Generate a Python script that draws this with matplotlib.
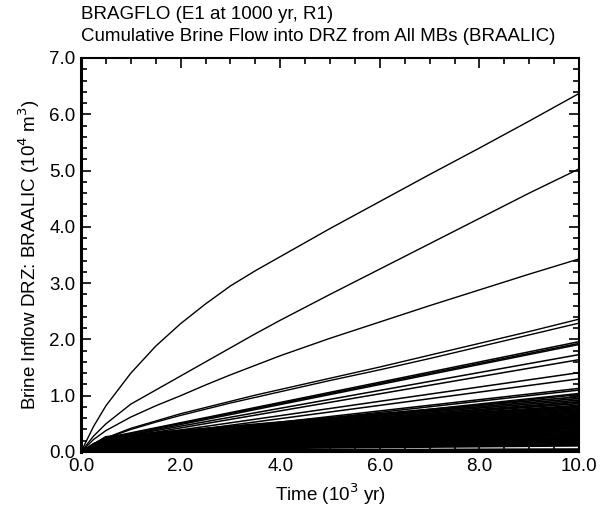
import matplotlib.pyplot as plt
from matplotlib.ticker import MultipleLocator

plt.rcParams['font.family'] = ['Liberation Sans', 'DejaVu Sans']

# time points (10^3 yr) for the upper, separated curves
t_upper = [0.0, 0.25, 0.5, 1.0, 1.5, 2.0, 2.5, 3.0, 3.5, 4.0, 5.0, 6.0, 7.0, 8.0, 9.0, 10.0]

# curves, values in 10^4 m^3
upper_curves = [
    [0.0, 0.45, 0.82, 1.40, 1.88, 2.28, 2.63, 2.95, 3.22, 3.47, 3.97, 4.45, 4.93, 5.40, 5.88, 6.37],
    [0.0, 0.28, 0.50, 0.85, 1.10, 1.35, 1.60, 1.85, 2.10, 2.34, 2.80, 3.25, 3.70, 4.15, 4.60, 5.03],
    [0.0, 0.22, 0.38, 0.62, 0.82, 1.00, 1.19, 1.37, 1.54, 1.71, 2.02, 2.31, 2.60, 2.88, 3.16, 3.43],
    [0.0, 0.15, 0.25, 0.42, 0.55, 0.68, 0.79, 0.90, 1.01, 1.11, 1.31, 1.51, 1.72, 1.93, 2.14, 2.36],
    [0.0, 0.14, 0.24, 0.40, 0.53, 0.65, 0.76, 0.87, 0.97, 1.07, 1.27, 1.46, 1.66, 1.87, 2.08, 2.29],
]

# mid group: value at t=0.5 and at t=10
t_mid = [0.0, 0.5, 10.0]
mid_half = [0.25, 0.24, 0.22, 0.22, 0.20, 0.20, 0.18, 0.18, 0.16, 0.15, 0.15, 0.14]
mid_end = [1.96, 1.93, 1.91, 1.73, 1.64, 1.41, 1.30, 1.13, 1.10, 1.04, 1.02, 0.89]

# dense bundle near the bottom: value at t=0.5 and at t=10
bundle_half = [0.02, 0.02, 0.03, 0.03, 0.04, 0.05, 0.05, 0.06, 0.06, 0.07,
               0.07, 0.08, 0.08, 0.09, 0.09, 0.10, 0.10, 0.11, 0.11, 0.12,
               0.12, 0.13, 0.13, 0.14, 0.14, 0.15, 0.15, 0.16, 0.16, 0.17,
               0.17, 0.18, 0.18, 0.19, 0.19, 0.20, 0.20, 0.21, 0.21, 0.22,
               0.22, 0.23, 0.23, 0.24, 0.24, 0.25, 0.25, 0.26, 0.26, 0.27]
bundle_end = [0.02, 0.03, 0.04, 0.05, 0.11, 0.13, 0.15, 0.17, 0.19, 0.21,
              0.23, 0.25, 0.26, 0.28, 0.30, 0.31, 0.33, 0.35, 0.37, 0.38,
              0.40, 0.42, 0.43, 0.45, 0.47, 0.48, 0.50, 0.52, 0.53, 0.55,
              0.57, 0.58, 0.60, 0.62, 0.63, 0.65, 0.67, 0.69, 0.71, 0.73,
              0.75, 0.77, 0.79, 0.81, 0.83, 0.86, 0.89, 0.92, 0.95, 0.98]

fig = plt.figure(figsize=(6.03, 5.11), dpi=100)
ax = fig.add_axes([0.1343, 0.1155, 0.826, 0.771])

for c in upper_curves:
    ax.plot(t_upper, c, color='black', lw=1.0)

for h, e in zip(mid_half, mid_end):
    ax.plot(t_mid, [0.0, h, e], color='black', lw=1.1)

for h, e in zip(bundle_half, bundle_end):
    ax.plot(t_mid, [0.0, h, e], color='black', lw=1.3)

ax.set_xlim(0, 10)
ax.set_ylim(0, 7)
ax.xaxis.set_major_locator(MultipleLocator(2))
ax.xaxis.set_minor_locator(MultipleLocator(0.5))
ax.yaxis.set_major_locator(MultipleLocator(1))
ax.yaxis.set_minor_locator(MultipleLocator(0.2))
ax.xaxis.set_major_formatter(lambda v, p: f"{v:.1f}")
ax.yaxis.set_major_formatter(lambda v, p: f"{v:.1f}")
ax.tick_params(which='both', direction='in', top=True, right=True, labelsize=13.5, width=1.2)
ax.tick_params(which='major', length=7, pad=4)
ax.tick_params(which='minor', length=4)
for s in ax.spines.values():
    s.set_linewidth(1.5)
ax.spines['left'].set_linewidth(2.2)

ax.set_xlabel("Time (10$^3$ yr)", fontsize=13.5, labelpad=5)
ax.set_ylabel("Brine Inflow DRZ: BRAALIC (10$^4$ m$^3$)", fontsize=13.5, labelpad=5)
fig.text(0.1343, 0.972, "BRAGFLO (E1 at 1000 yr, R1)", fontsize=13.5, ha='left', va='center')
fig.text(0.1343, 0.928, "Cumulative Brine Flow into DRZ from All MBs (BRAALIC)", fontsize=13.5,
         ha='left', va='center')

fig.savefig("out.png", dpi=100)
